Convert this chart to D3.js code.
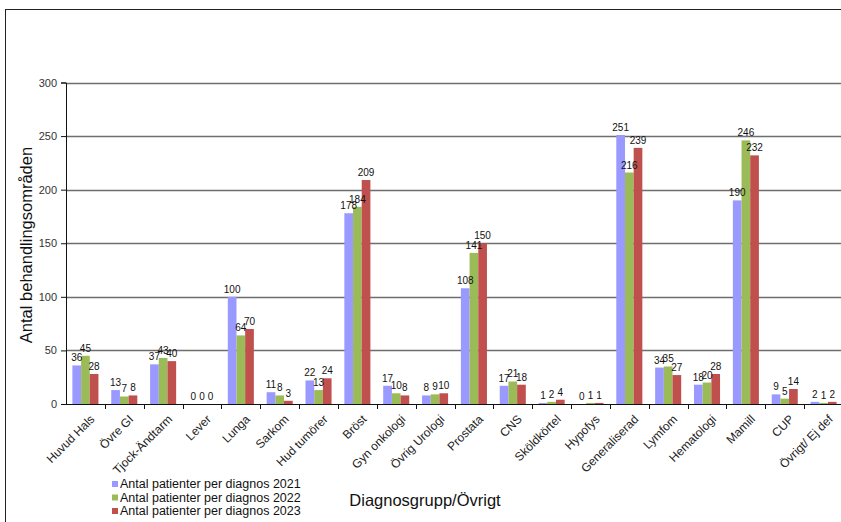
<!DOCTYPE html>
<html>
<head>
<meta charset="utf-8">
<script src="https://cdn.jsdelivr.net/npm/d3@7"></script>
<style>
  body { margin: 0; background: #fff; }
  svg { display: block; font-family: "Liberation Sans", Arial, sans-serif; }
</style>
</head>
<body>
<div id="chart"></div>
<script>
var categories = ["Huvud Hals", "Övre GI", "Tjock-Ändtarm", "Lever", "Lunga", "Sarkom", "Hud tumörer", "Bröst",
  "Gyn onkologi", "Övrig Urologi", "Prostata", "CNS", "Sköldkörtel", "Hypofys", "Generaliserad", "Lymfom",
  "Hematologi", "Mamill", "CUP", "Övrigt/  Ej def"];

var values2021 = [36, 13, 37, 0, 100, 11, 22, 178, 17, 8, 108, 17, 1, 0, 251, 34, 18, 190, 9, 2];
var values2022 = [45, 7, 43, 0, 64, 8, 13, 184, 10, 9, 141, 21, 2, 1, 216, 35, 20, 246, 5, 1];
var values2023 = [28, 8, 40, 0, 70, 3, 24, 209, 8, 10, 150, 18, 4, 1, 239, 27, 28, 232, 14, 2];

var seriesNames = ["Antal patienter per diagnos 2021", "Antal patienter per diagnos 2022", "Antal patienter per diagnos 2023"];
var seriesColors = ["#9999FF", "#9BBB59", "#C0504D"];
var yTicks = [0, 50, 100, 150, 200, 250, 300];

var series = [values2021, values2022, values2023];

var width = 841, height = 522;
var plot = {left: 66, top: 82.5, right: 843, bottom: 404};

var svg = d3.select("#chart").append("svg")
  .attr("width", width)
  .attr("height", height);

// outer frame
svg.append("rect")
  .attr("x", 5.5).attr("y", 9.5)
  .attr("width", 850).attr("height", 530)
  .attr("fill", "none")
  .attr("stroke", "#222")
  .attr("stroke-width", 1);

var x = d3.scaleBand()
  .domain(categories)
  .range([plot.left, plot.right]);

var x1 = d3.scaleBand()
  .domain(d3.range(series.length))
  .range([6.4, x.bandwidth() - 6.4]);

var y = d3.scaleLinear()
  .domain([0, 300])
  .range([plot.bottom, plot.top]);

// gridlines
svg.append("g")
  .selectAll("line")
  .data(yTicks.filter(function(d) { return d > 0; }))
  .enter().append("line")
  .attr("x1", plot.left).attr("x2", width)
  .attr("y1", function(d) { return Math.round(y(d)) + 0.5; })
  .attr("y2", function(d) { return Math.round(y(d)) + 0.5; })
  .attr("stroke", "#6e6e6e")
  .attr("stroke-width", 1.4);

// bars
var groups = svg.append("g")
  .selectAll("g")
  .data(categories)
  .enter().append("g")
  .attr("transform", function(d) { return "translate(" + x(d) + ",0)"; });

groups.selectAll("rect")
  .data(function(d, i) { return series.map(function(s, k) { return {k: k, v: s[i]}; }); })
  .enter().append("rect")
  .attr("x", function(d) { return x1(d.k); })
  .attr("width", x1.bandwidth())
  .attr("y", function(d) { return y(d.v); })
  .attr("height", function(d) { return plot.bottom - y(d.v); })
  .attr("fill", function(d) { return seriesColors[d.k]; });

// value labels
groups.selectAll("text")
  .data(function(d, i) { return series.map(function(s, k) { return {k: k, v: s[i]}; }); })
  .enter().append("text")
  .attr("x", function(d) { return x1(d.k) + x1.bandwidth() / 2; })
  .attr("y", function(d) { return y(d.v) - 4; })
  .attr("text-anchor", "middle")
  .style("font-size", "10px")
  .style("fill", "#111")
  .text(function(d) { return d.v; });

// y axis
var yAxis = svg.append("g")
  .attr("transform", "translate(" + plot.left + ",0)")
  .call(d3.axisLeft(y).tickValues(yTicks).tickSizeOuter(0).tickSize(5).tickPadding(4));
yAxis.select(".domain").attr("stroke", "#111");
yAxis.selectAll(".tick line").attr("stroke", "#111");
yAxis.selectAll("text").style("font-size", "11px").style("fill", "#333").style("font-family", "Liberation Sans, Arial, sans-serif");

// x axis
var xAxisG = svg.append("g")
  .attr("transform", "translate(0," + plot.bottom + ")");
xAxisG.append("line")
  .attr("x1", plot.left).attr("x2", width)
  .attr("y1", 0.5).attr("y2", 0.5)
  .attr("stroke", "#111");
xAxisG.selectAll("line.tick")
  .data(categories.slice(1))
  .enter().append("line")
  .attr("class", "tick")
  .attr("x1", function(d) { return Math.round(x(d)) + 0.5; })
  .attr("x2", function(d) { return Math.round(x(d)) + 0.5; })
  .attr("y1", 0).attr("y2", 5)
  .attr("stroke", "#111");
xAxisG.selectAll("text")
  .data(categories)
  .enter().append("text")
  .attr("transform", function(d) {
    return "translate(" + (x(d) + x.bandwidth() / 2 + 4) + ",10) rotate(-45)";
  })
  .attr("text-anchor", "end")
  .attr("dy", "0.7em")
  .style("font-size", "12px")
  .style("fill", "#222")
  .text(function(d) { return d; });

// axis titles
svg.append("text")
  .attr("transform", "translate(32,245) rotate(-90)")
  .attr("text-anchor", "middle")
  .style("font-size", "16.5px")
  .style("fill", "#111")
  .text("Antal behandlingsområden");

svg.append("text")
  .attr("x", 425).attr("y", 506)
  .attr("text-anchor", "middle")
  .style("font-size", "16.5px")
  .style("fill", "#111")
  .text("Diagnosgrupp/Övrigt");

// legend
var legend = svg.append("g")
  .selectAll("g")
  .data(seriesNames)
  .enter().append("g")
  .attr("transform", function(d, i) { return "translate(112," + (488 + i * 13.5) + ")"; });
legend.append("rect")
  .attr("x", 0).attr("y", -7)
  .attr("width", 6).attr("height", 6)
  .attr("fill", function(d, i) { return seriesColors[i]; });
legend.append("text")
  .attr("x", 8).attr("y", 0)
  .style("font-size", "12.5px")
  .style("fill", "#111")
  .text(function(d) { return d; });
</script>
</body>
</html>
